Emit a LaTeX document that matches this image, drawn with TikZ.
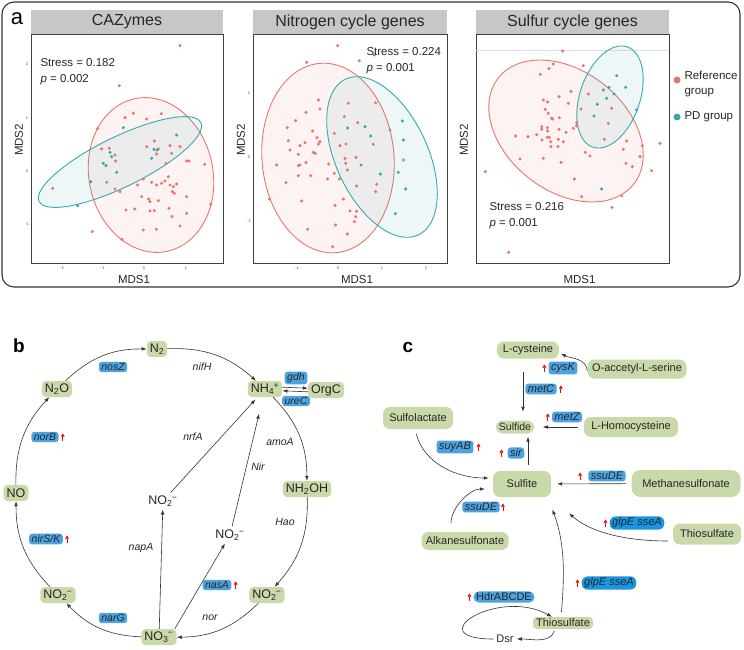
\documentclass[tikz,border=0pt]{standalone}
\usepackage{fontspec}
\setmainfont{Liberation Sans}
\usetikzlibrary{arrows.meta}
\definecolor{pgreen}{RGB}{201,217,170}
\definecolor{pblue}{RGB}{77,163,224}
\definecolor{pbluedk}{RGB}{25,150,226}
\definecolor{gred}{RGB}{232,118,108}
\definecolor{gteal}{RGB}{52,170,172}
\newcommand\chemion[2]{\textsubscript{#1}\kern-0.6pt\textsuperscript{#2}}
\tikzset{upmark/.pic={\draw[red, line width=0.8pt, -{Triangle[length=3.2pt,width=3.8pt]}] (0,3.5) -- (0,-3.5);}}

\begin{document}
\begin{tikzpicture}[x=1pt, y=-1pt,
  chem/.style={fill=pgreen, rounded corners=4pt, inner xsep=3pt, inner ysep=2pt, minimum height=16pt, font=\fontsize{12.5}{14}\selectfont, text=black!85},
  sulf/.style={chem, rounded corners=7pt, font=\fontsize{11}{13}\selectfont},
  gene/.style={fill=pblue, rounded corners=3pt, inner xsep=2.5pt, inner ysep=1.5pt, font=\fontsize{10.5}{12}\selectfont\itshape, text=black!85},
  enz/.style={font=\fontsize{10.5}{12}\selectfont\itshape, text=black!85},
  plain/.style={font=\fontsize{12.5}{14}\selectfont, text=black!85, inner sep=3pt},
  arr/.style={draw=black!80, line width=0.6pt, -{Latex[length=5pt,width=3.6pt]}},
  lbl/.style={font=\fontsize{11.5}{16}\selectfont, text=black!85},
  tick/.style={font=\fontsize{4}{5}\selectfont, text=black!70, inner sep=0pt},
  redell/.style={draw=gred, line width=0.9pt, fill=gred, fill opacity=0.09},
  tealell/.style={draw=gteal, line width=0.9pt, fill=gteal, fill opacity=0.09}]
\useasboundingbox (0,0) rectangle (744,650);

% panel a
\draw[rounded corners=12pt, line width=1.1pt, black!80] (2,2) rectangle (740,287);
\node[font=\fontsize{22}{24}\selectfont] (lbla) at (17,19) {a};
\foreach \l/\r/\t [count=\i] in {31/223/CAZymes, 253/447/Nitrogen cycle genes, 476/669/Sulfur cycle genes}{
  \fill[black!22] (\l,10) rectangle (\r,34);
  \node[font=\fontsize{16}{18}\selectfont, text=black!85] (title\i) at ({(\l+\r)/2},22) {\t};
  \draw[black!75, line width=0.6pt] (\l,34) rectangle (\r,263);
  \node[lbl] (mdsx\i) at ({(\l+\r)/2+7},280) {MDS1};
  \node[lbl, rotate=90] (mdsy\i) at ({\l-12},140) {MDS2};
}
\draw[black!12] (476,50) -- (669,50);

% ellipses
\draw[redell, rotate around={12:(151,175)}] (151,175) ellipse [x radius=62, y radius=78];
\draw[tealell, rotate around={26:(120,162)}] (120,162) ellipse [x radius=90, y radius=25];
\draw[redell, rotate around={5:(328,158)}] (328,158) ellipse [x radius=66, y radius=95];
\draw[tealell, rotate around={25:(382,157)}] (382,157) ellipse [x radius=46, y radius=86];
\draw[redell, rotate around={-38:(566,131)}] (566,131) ellipse [x radius=86, y radius=60];
\draw[tealell, rotate around={-19:(610,97)}] (610,97) ellipse [x radius=30, y radius=53];

% points, CAZymes
\begin{scope}[x=0.3333pt, y=-0.3333pt]
\foreach \x/\y in {540/137, 358/257, 400/340, 375/353, 440/357, 484/341, 293/385, 463/423, 510/437, 305/447, 328/445, 345/465, 347/483, 440/440, 475/447, 470/462, 515/460, 498/490, 540/440, 560/483, 567/483, 614/493, 320/547, 345/567, 360/575, 413/555, 430/537, 455/547, 470/555, 485/550, 495/543, 510/555, 505/530, 520/560, 530/552, 517/575, 523/580, 560/590, 425/590, 446/597, 450/605, 475/602, 378/630, 404/627, 450/633, 463/632, 507/625, 516/650, 560/640, 632/613, 430/690, 469/688, 540/678, 277/695, 366/718, 158/565}
  \fill[gred] (\x,\y) circle (1.7pt);
\foreach \x/\y in {370/383, 530/405, 462/448, 471/450, 455/475, 330/457, 335/470, 310/490, 318/497, 350/517, 272/545, 233/617}
  \fill[gteal] (\x,\y) circle (1.7pt);
\end{scope}
% points, nitrogen
\begin{scope}[shift={(230,0)}, x=0.3333pt, y=-0.3333pt]
\foreach \x/\y in {323/137, 230/187, 388/182, 433/165, 265/300, 270/327, 355/310, 437/308, 228/337, 197/362, 172/383, 343/350, 383/368, 175/422, 210/437, 225/428, 248/393, 261/413, 265/432, 270/425, 250/457, 256/460, 205/463, 180/450, 140/495, 210/495, 205/497, 228/488, 205/527, 242/527, 168/548, 296/492, 313/400, 330/437, 348/432, 345/475, 352/510, 378/472, 347/490, 380/558, 328/537, 293/537, 313/520, 430/433, 480/390, 520/480, 440/553, 437/575, 215/603, 340/597, 315/616, 360/633, 380/634, 377/650, 373/665, 317/675, 233/688, 352/702, 308/740, 118/597}
  \fill[gred] (\x,\y) circle (1.7pt);
\foreach \x/\y in {353/384, 405/380, 422/408, 517/363, 520/420, 393/495, 451/522, 505/517, 527/567, 496/641}
  \fill[gteal] (\x,\y) circle (1.7pt);
\end{scope}
% points, sulfur
\begin{scope}[shift={(460,0)}, x=0.3333pt, y=-0.3333pt]
\foreach \x/\y in {308/153, 280/192, 267/206, 241/223, 370/197, 333/274, 297/290, 325/310, 250/300, 263/306, 256/328, 265/340, 275/355, 278/357, 298/353, 245/380, 245/388, 262/383, 263/393, 297/388, 318/397, 340/385, 350/368, 350/378, 385/282, 363/327, 167/408, 204/410, 230/404, 246/420, 262/412, 268/412, 272/425, 273/440, 295/418, 294/440, 310/425, 180/477, 250/475, 303/487, 376/457, 390/468, 343/537, 365/590, 455/325, 445/370, 433/418, 490/448, 500/423, 498/490, 517/500, 540/470, 547/437, 600/430, 575/512, 485/587, 456/622, 76/515, 146/757}
  \fill[gred] (\x,\y) circle (1.7pt);
\foreach \x/\y in {470/227, 497/262, 447/262, 430/270, 462/282, 440/295, 412/313, 402/348, 425/567, 530/330}
  \fill[gteal] (\x,\y) circle (1.7pt);
\end{scope}

% ticks
\foreach \v/\x in {-2/62, -1/103, 0/144, 1/186} \node[tick] (tx\x) at (\x,268) {\v};
\foreach \v/\y in {2/64, 1/118, 0/171, -1/224} \node[tick] (ty\y) at (27,\y) {\v};
\foreach \v/\x in {-1/297, 0/338, 1/382, 2/426} \node[tick] (tx\x) at (\x,268) {\v};
\foreach \v/\y in {1/93, 0/157, -1/221} \node[tick] (tz\y) at (249,\y) {\v};

% stats and legend
\node[lbl, align=left, anchor=west] (stat1) at (37,71.5) {Stress = 0.182\\\textit{p} = 0.002};
\node[lbl, align=left, anchor=west] (stat2) at (363,60.5) {Stress = 0.224\\\textit{p} = 0.001};
\node[lbl, align=left, anchor=west] (stat3) at (486,216) {Stress = 0.216\\\textit{p} = 0.001};
\fill[gred] (677,80) circle (3.5pt);
\node[lbl, align=left, anchor=west, font=\fontsize{11.5}{15}\selectfont] (legref) at (681,84) {Reference\\group};
\fill[gteal] (677,117) circle (3.5pt);
\node[lbl, anchor=west] (legpd) at (681,117) {PD group};

% panel b
\node[font=\fontsize{19}{21}\selectfont\bfseries] (lblb) at (19,346) {b};
\node[chem] (Nii) at (157,349) {N\textsubscript{2}};
\node[chem] (NiiO) at (57,389) {N\textsubscript{2}O};
\node[chem] (NO) at (16,493) {NO};
\node[chem] (NOiiL) at (58,595) {NO\chemion{2}{−}};
\node[chem] (NOiii) at (159,637) {NO\chemion{3}{−}};
\node[chem] (NOiiR) at (267,595) {NO\chemion{2}{−}};
\node[chem] (NHiiOH) at (307,489) {NH\textsubscript{2}OH};
\node[chem] (NHiv) at (265,389) {NH\chemion{4}{+}};
\node[chem] (OrgC) at (326,390) {OrgC};
\node[plain] (NOiiA) at (163,501) {NO\chemion{2}{−}};
\node[plain] (NOiiB) at (230,535) {NO\chemion{2}{−}};

\draw[arr] (NiiO) to[bend left=22] (Nii);
\draw[arr] (Nii) to[bend left=22] (NHiv);
\draw[arr] (NHiv) to[bend left=22] (NHiiOH);
\draw[arr] (NHiiOH) to[bend left=22] (NOiiR);
\draw[arr] (NOiiR) to[bend left=22] (NOiii);
\draw[arr] (NOiii) to[bend left=22] (NOiiL);
\draw[arr] (NOiiL) to[bend left=22] (NO);
\draw[arr] (NO) to[bend left=22] (NiiO);
\draw[arr] (NOiii) -- (NOiiA);
\draw[arr, shorten >=3pt] (NOiiA) -- (NHiv);
\draw[arr] ([xshift=-2pt]NOiii.north east) -- (NOiiB);
\draw[arr, shorten >=17pt] (NOiiB) -- (NHiv);
\draw[arr] ([yshift=1.8pt]NHiv.east) -- ([yshift=1.8pt]OrgC.west);
\draw[arr] ([yshift=-1.8pt]OrgC.west) -- ([yshift=-1.8pt]NHiv.east);

\node[gene] (nosZ) at (113,367) {nosZ};
\node[gene] (norB) at (45,437) {norB};
\node[gene] (nirSK) at (46,539) {nirS/K};
\node[gene] (narG) at (113,618) {narG};
\node[gene] (nasA) at (217,585) {nasA};
\node[gene] (gdh) at (296,378) {gdh};
\node[gene] (ureC) at (296,401) {ureC};
\pic at ([xshift=4pt]norB.east) {upmark};
\pic at ([xshift=4pt]nirSK.east) {upmark};
\pic at ([xshift=4pt]nasA.east) {upmark};
\node[enz] (nifH) at (202,367) {nifH};
\node[enz] (nrfA) at (193,437) {nrfA};
\node[enz] (napA) at (141,548) {napA};
\node[enz] (Nir) at (258,467) {Nir};
\node[enz] (amoA) at (280,442) {amoA};
\node[enz] (Hao) at (285,522) {Hao};
\node[enz] (nor) at (210,618) {nor};

% panel c
\node[font=\fontsize{19}{21}\selectfont\bfseries] (lblc) at (408,347) {c};
\node[sulf, minimum width=62pt, minimum height=17pt] (Lcys) at (528,350) {L-cysteine};
\node[sulf, minimum width=99pt, minimum height=19pt] (Oacc) at (637,369) {O-accetyl-L-serine};
\node[sulf, minimum width=37pt, minimum height=13pt, inner ysep=1pt, font=\fontsize{10.5}{12}\selectfont] (Sulfide) at (515,427) {Sulfide};
\node[sulf, minimum width=94pt, minimum height=20pt] (Lhomo) at (631,427) {L-Homocysteine};
\node[sulf, minimum width=70pt, minimum height=22pt] (Sulfolac) at (418,418) {Sulfolactate};
\node[sulf, minimum width=58pt, minimum height=26pt] (Sulfite) at (522,484) {Sulfite};
\node[sulf, minimum width=109pt, minimum height=27pt, rounded corners=9pt] (Methane) at (686,483.5) {Methanesulfonate};
\node[sulf, minimum width=87pt, minimum height=18pt] (Alkane) at (465,541) {Alkanesulfonate};
\node[sulf, minimum width=68pt, minimum height=21pt] (ThioR) at (707,534) {Thiosulfate};
\node[sulf, minimum width=60pt, minimum height=12pt, inner ysep=0.5pt, rounded corners=4pt] (ThioB) at (563,623) {Thiosulfate};
\node[plain, font=\fontsize{11}{13}\selectfont] (Dsr) at (505,639) {Dsr};

\coordinate (xa) at (523,0);
\coordinate (xb) at (528,0);
\draw[arr, shorten >=2pt] ([yshift=-2pt]Oacc.west) to[out=95, in=-25] ([yshift=-3pt]Lcys.east);
\draw[arr, shorten <=13pt, shorten >=8.5pt] (Lcys.south -| xa) -- (Sulfide.north -| xa);
\draw[arr, shorten <=6pt, shorten >=8.5pt] (Lhomo) -- (Sulfide);
\draw[arr, shorten <=6pt, shorten >=3pt] (Sulfite.north -| xb) -- (Sulfide.south -| xb);
\draw[arr, shorten <=5pt, shorten >=4pt] ([xshift=-3pt]Sulfolac.south) to[out=-75, in=180] ([yshift=6pt]Sulfite.west);
\draw[arr, shorten <=9pt, shorten >=8pt] ([xshift=-14pt]Alkane.north) to[out=90, in=180] ([yshift=-5pt]Sulfite.west);
\draw[arr, shorten <=5pt, shorten >=6pt] (Methane) -- (Sulfite);
\draw[arr, shorten <=5pt, shorten >=24pt] ([yshift=-7pt]ThioR.west) to[out=180, in=-42] (Sulfite.south east);
\draw[arr, shorten <=5pt, shorten >=13pt] ([xshift=-2pt]ThioB.north) to[out=85, in=-70] ([xshift=26pt]Sulfite.south);
\draw[arr] (Dsr.west) .. controls +(-75,0) and +(-55,-30) .. ([xshift=-11pt]ThioB.north);
\draw[arr, shorten <=2pt] ([xshift=-8pt]ThioB.south) to[out=-110, in=0] (Dsr.east);

\node[gene, font=\fontsize{11}{13}\selectfont\itshape] (cysK) at (563,368) {cysK};
\node[gene, font=\fontsize{11}{13}\selectfont\itshape] (metC) at (541,389) {metC};
\node[gene, font=\fontsize{11}{13}\selectfont\itshape] (metZ) at (567,417) {metZ};
\node[gene, font=\fontsize{11}{13}\selectfont\itshape] (suyAB) at (455,447) {suyAB};
\node[gene, font=\fontsize{11}{13}\selectfont\itshape] (sir) at (516,453) {sir};
\node[gene, font=\fontsize{11}{13}\selectfont\itshape] (ssuDEa) at (481,507) {ssuDE};
\node[gene, font=\fontsize{11}{13}\selectfont\itshape] (ssuDEb) at (607,476) {ssuDE};
\node[gene, fill=pbluedk, rounded corners=6pt, font=\fontsize{11}{13}\selectfont\itshape] (glpEa) at (637,523) {glpE sseA};
\node[gene, fill=pbluedk, rounded corners=6pt, font=\fontsize{11}{13}\selectfont\itshape] (glpEb) at (609,583) {glpE sseA};
\node[gene, rounded corners=5pt, font=\fontsize{11}{13}\selectfont] (Hdr) at (504,597) {HdrABCDE};
\pic at ([xshift=-4pt]cysK.west) {upmark};
\pic at ([xshift=4pt]metC.east) {upmark};
\pic at ([xshift=-4pt]metZ.west) {upmark};
\pic at ([xshift=5pt]suyAB.east) {upmark};
\pic at ([xshift=-6pt]sir.west) {upmark};
\pic at ([xshift=3pt]ssuDEa.east) {upmark};
\pic at ([xshift=-8pt]ssuDEb.west) {upmark};
\pic at ([xshift=-4pt]glpEa.west) {upmark};
\pic at ([xshift=-4pt]glpEb.west) {upmark};
\pic at ([xshift=-4pt]Hdr.west) {upmark};
\end{tikzpicture}
\end{document}
